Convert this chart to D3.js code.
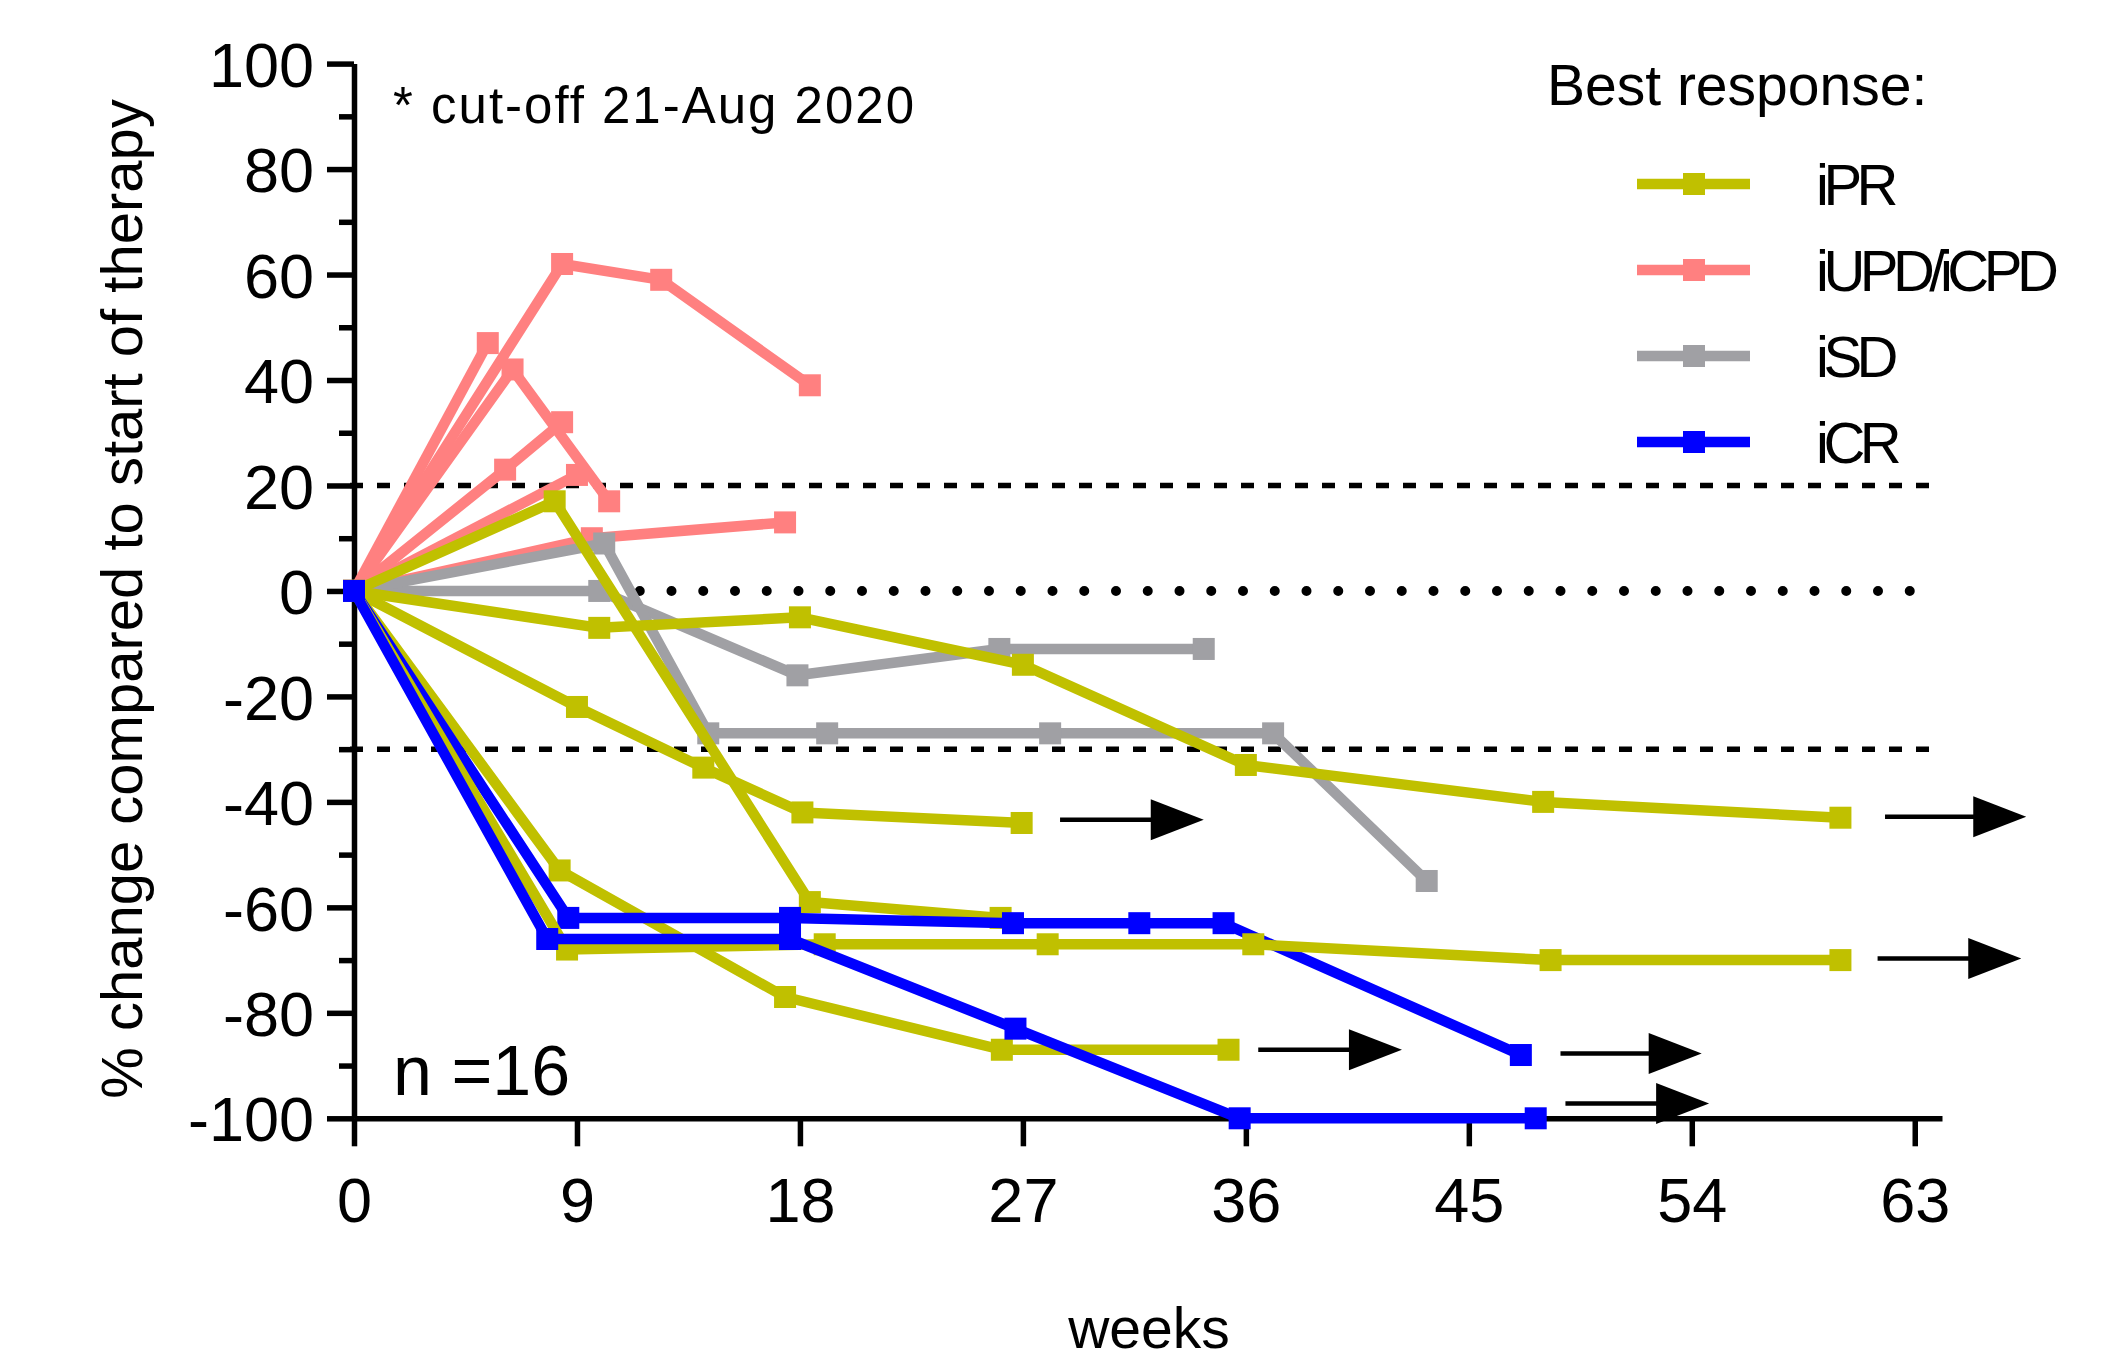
<!DOCTYPE html>
<html lang="en">
<head>
<meta charset="utf-8">
<title>Best response over time</title>
<script src="https://d3js.org/d3.v7.min.js"></script>
<style>
  html, body { margin: 0; padding: 0; background: #fff; }
  svg { display: block; }
  text { font-family: "Liberation Sans", Arial, sans-serif; fill: #000; }
</style>
</head>
<body>
<div id="chart"></div>
<script>
// Data (weeks, % change), one array per patient
const iUPD = [
  [[0, 0], [5.4, 47]],
  [[0, 0], [8.4, 62], [12.4, 59], [18.4, 39]],
  [[0, 0], [6.4, 42], [10.3, 17]],
  [[0, 0], [6.1, 23], [8.4, 32]],
  [[0, 0], [9.0, 22]],
  [[0, 0], [9.6, 10], [17.4, 13]]
];
const iSD = [
  [[0, 0], [9.9, 0], [17.9, -16], [26.05, -11], [34.3, -11]],
  [[0, 0], [10.1, 9], [14.3, -27], [19.1, -27], [28.1, -27], [37.1, -27], [43.3, -55]]
];
const iPR = [
  [[0, 0], [9.9, -7], [18.0, -5], [27.0, -14], [36.0, -33], [48.0, -40], [60.0, -43]],
  [[0, 0], [8.1, 17], [18.4, -59], [26.1, -62]],
  [[0, 0], [9.0, -22], [14.1, -33.5], [18.1, -42], [26.95, -44]],
  [[0, 0], [8.3, -53], [17.4, -77], [26.15, -87], [35.3, -87]],
  [[0, 0], [8.6, -68], [19.0, -67], [28.0, -67], [36.3, -67], [48.3, -70], [60.0, -70]]
];
const iCR = [
  [[0, 0], [8.65, -62], [17.6, -62], [26.6, -63], [31.7, -63], [35.1, -63], [47.1, -88]],
  [[0, 0], [7.8, -66], [17.6, -66], [26.7, -83], [35.75, -100], [47.7, -100]]
];
// ongoing response arrows: start week, end week, % change
const arrows = [
  [28.5, 34.3, -43.4],
  [61.8, 67.5, -42.8],
  [61.5, 67.3, -69.7],
  [36.5, 42.3, -87.0],
  [48.7, 54.4, -87.7],
  [48.9, 54.7, -97.2]
];
const xTicks = [0, 9, 18, 27, 36, 45, 54, 63];
const yTicks = [-100, -80, -60, -40, -20, 0, 20, 40, 60, 80, 100];
const yMinorTicks = [-90, -70, -50, -30, -10, 10, 30, 50, 70, 90];
const thresholds = [20, -30];
const legendLabels = ["iPR", "iUPD/iCPD", "iSD", "iCR"];

const color = {
  "iPR": "#c0c000",
  "iUPD/iCPD": "#ff8080",
  "iSD": "#a0a0a4",
  "iCR": "#0000ff"
};

// drawing order as in the original figure
const series = [
  ...iUPD.map(p => ({ group: "iUPD/iCPD", points: p })),
  ...iSD.map(p => ({ group: "iSD", points: p })),
  ...iPR.slice(0, 4).map(p => ({ group: "iPR", points: p })),
  { group: "iCR", points: iCR[0] },
  { group: "iPR", points: iPR[4] },
  { group: "iCR", points: iCR[1] }
];

const width = 2119;
const height = 1362;

const svg = d3.select("#chart")
  .append("svg")
  .attr("width", width)
  .attr("height", height);

svg.append("rect")
  .attr("width", width)
  .attr("height", height)
  .attr("fill", "#fff");

const x = d3.scaleLinear().domain([0, 64.1]).range([354, 1942]);
const y = d3.scaleLinear().domain([-100, 100]).range([1118.3, 63.6]);

// Reference lines
svg.selectAll(".threshold")
  .data(thresholds)
  .enter()
  .append("line")
  .attr("x1", x(0) - 4)
  .attr("x2", x(64.1))
  .attr("y1", d => y(d))
  .attr("y2", d => y(d))
  .attr("stroke", "#000")
  .attr("stroke-width", 5.5)
  .attr("stroke-dasharray", "13 14");

svg.append("line")
  .attr("x1", x(0))
  .attr("x2", x(63))
  .attr("y1", y(0))
  .attr("y2", y(0))
  .attr("stroke", "#000")
  .attr("stroke-width", 10)
  .attr("stroke-linecap", "round")
  .attr("stroke-dasharray", "0 31.75");

// Axes
const plain = d => String(d);

const yAxis = svg.append("g")
  .attr("transform", `translate(${x(0)},0)`)
  .call(d3.axisLeft(y).tickValues(yTicks).tickSize(27).tickSizeOuter(0).tickPadding(13).tickFormat(plain));

svg.append("g")
  .attr("transform", `translate(${x(0)},0)`)
  .call(d3.axisLeft(y).tickValues(yMinorTicks).tickSize(15).tickSizeOuter(0).tickFormat(""))
  .select(".domain").remove();

const xAxis = svg.append("g")
  .attr("transform", `translate(0,${y(-100)})`)
  .call(d3.axisBottom(x).tickValues(xTicks).tickSize(28).tickSizeOuter(0).tickFormat(plain));

[yAxis, xAxis].forEach(g => {
  g.selectAll("text")
    .style("font-family", '"Liberation Sans", Arial, sans-serif')
    .attr("font-size", 63)
    .attr("fill", "#000");
});
yAxis.selectAll("text").attr("dy", "0.36em");
xAxis.selectAll("text").attr("y", 103.4).attr("dy", 0);

svg.selectAll(".domain, .tick line")
  .attr("stroke", "#000")
  .attr("stroke-width", 5.5);

// Series lines and markers
const line = d3.line()
  .x(d => x(d[0]))
  .y(d => y(d[1]));

const marker = 22;

series.forEach(s => {
  const g = svg.append("g");
  g.append("path")
    .datum(s.points)
    .attr("d", line)
    .attr("fill", "none")
    .attr("stroke", color[s.group])
    .attr("stroke-width", 10.5)
    .attr("stroke-linejoin", "round");
  g.selectAll("rect")
    .data(s.points)
    .enter()
    .append("rect")
    .attr("x", d => x(d[0]) - marker / 2)
    .attr("y", d => y(d[1]) - marker / 2)
    .attr("width", marker)
    .attr("height", marker)
    .attr("fill", color[s.group]);
});

// Arrows
const headLen = 53;
const headHalf = 20.5;
arrows.forEach(a => {
  const x0 = x(a[0]);
  const x1 = x(a[1]);
  const yy = y(a[2]);
  svg.append("line")
    .attr("x1", x0)
    .attr("x2", x1 - headLen + 2)
    .attr("y1", yy)
    .attr("y2", yy)
    .attr("stroke", "#000")
    .attr("stroke-width", 4.5);
  svg.append("path")
    .attr("d", `M${x1 - headLen},${yy - headHalf}L${x1},${yy}L${x1 - headLen},${yy + headHalf}Z`)
    .attr("fill", "#000");
});

// Texts
svg.append("text")
  .attr("x", 393)
  .attr("y", 123)
  .attr("font-size", 51)
  .attr("letter-spacing", 2)
  .text("* cut-off 21-Aug 2020");

svg.append("text")
  .attr("x", 393)
  .attr("y", 1095)
  .attr("font-size", 70)
  .text("n =16");

svg.append("text")
  .attr("transform", "translate(142,599) rotate(-90)")
  .attr("text-anchor", "middle")
  .attr("font-size", 58)
  .text("% change compared to start of therapy");

svg.append("text")
  .attr("x", 1149)
  .attr("y", 1348)
  .attr("text-anchor", "middle")
  .attr("font-size", 57)
  .text("weeks");

// Legend
svg.append("text")
  .attr("x", 1547)
  .attr("y", 105)
  .attr("font-size", 57)
  .text("Best response:");

const legend = svg.selectAll(".legend-item")
  .data(legendLabels)
  .enter()
  .append("g")
  .attr("transform", (d, i) => `translate(0,${184 + i * 86})`);

legend.append("line")
  .attr("x1", 1637)
  .attr("x2", 1750)
  .attr("stroke", d => color[d])
  .attr("stroke-width", 10.3);

legend.append("rect")
  .attr("x", 1694 - marker / 2)
  .attr("y", -marker / 2)
  .attr("width", marker)
  .attr("height", marker)
  .attr("fill", d => color[d]);

legend.append("text")
  .attr("x", 1816)
  .attr("y", 21)
  .attr("font-size", 58)
  .attr("letter-spacing", -5.5)
  .text(d => d);
</script>
</body>
</html>
